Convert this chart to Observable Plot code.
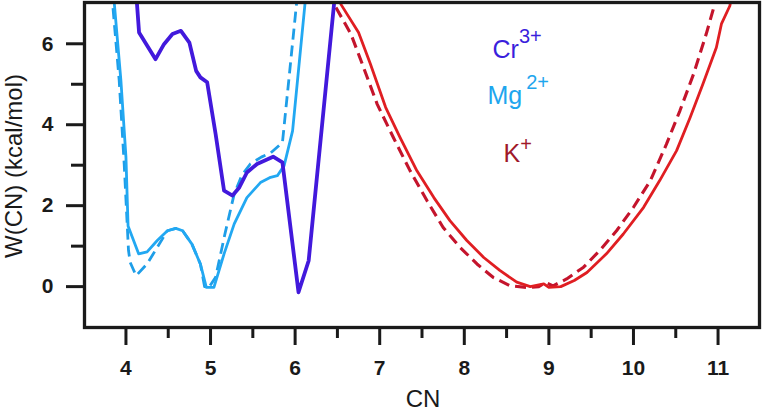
<!DOCTYPE html>
<html>
<head>
<meta charset="utf-8">
<script src="https://cdn.jsdelivr.net/npm/d3@7"></script>
<script src="https://cdn.jsdelivr.net/npm/@observablehq/plot@0.6"></script>
<style>
  html, body { margin: 0; padding: 0; background: #fff; }
  #chart svg { display: block; font-family: "Liberation Sans", Arial, Helvetica, sans-serif; }
  g[aria-label="x-axis tick label"] text, g[aria-label="y-axis tick label"] text { font-weight: bold; }
</style>
</head>
<body>
<div id="chart"></div>
<script>
// ---- Data ----
const crX = [4.125, 4.13, 4.155, 4.35, 4.45, 4.55, 4.65, 4.75, 4.83, 4.88, 4.96, 5.06, 5.16, 5.26, 5.34, 5.43, 5.55, 5.74, 5.85, 6.04, 6.16, 6.46, 6.48];
const crY = [7.4, 7.0, 6.28, 5.62, 5.99, 6.24, 6.32, 6.03, 5.33, 5.17, 5.05, 3.77, 2.37, 2.25, 2.45, 2.82, 3.03, 3.21, 3.07, -0.14, 0.64, 6.98, 7.4];

const mgSolidX = [3.85, 3.94, 4.0, 4.025, 4.15, 4.25, 4.37, 4.49, 4.59, 4.67, 4.78, 4.88, 4.95, 5.04, 5.16, 5.28, 5.43, 5.59, 5.71, 5.79, 5.87, 5.97, 6.12, 6.14];
const mgSolidY = [7.3, 5.1, 3.2, 1.5, 0.81, 0.86, 1.14, 1.38, 1.44, 1.38, 1.05, 0.56, -0.02, -0.02, 0.81, 1.55, 2.2, 2.57, 2.70, 2.74, 2.99, 3.85, 7.06, 7.4];

const mgDashX = [3.83, 3.92, 3.98, 4.03, 4.05, 4.12, 4.25, 4.37, 4.49, 4.59, 4.67, 4.78, 4.88, 4.93, 4.98, 5.06, 5.17, 5.28, 5.37, 5.47, 5.6, 5.71, 5.85, 5.93, 6.02, 6.04];
const mgDashY = [7.3, 5.1, 3.0, 0.9, 0.6, 0.27, 0.56, 0.97, 1.38, 1.44, 1.38, 1.05, 0.56, 0.0, -0.02, 0.23, 1.3, 2.29, 2.75, 3.03, 3.2, 3.3, 3.56, 5.2, 7.06, 7.4];

const kSolidX = [6.52, 6.54, 6.75, 6.89, 7.07, 7.24, 7.44, 7.64, 7.83, 8.03, 8.23, 8.42, 8.62, 8.78, 8.94, 9.0, 9.14, 9.30, 9.45, 9.68, 9.88, 10.12, 10.31, 10.51, 10.67, 10.82, 10.98, 11.04, 11.14, 11.17];
const kSolidY = [7.3, 6.98, 6.28, 5.5, 4.43, 3.69, 2.86, 2.2, 1.63, 1.14, 0.72, 0.40, 0.11, 0.0, 0.07, -0.02, 0.0, 0.15, 0.35, 0.81, 1.3, 1.96, 2.62, 3.36, 4.18, 5.0, 5.91, 6.49, 6.94, 7.3];

const kDashX = [6.44, 6.46, 6.66, 6.81, 6.97, 7.16, 7.36, 7.56, 7.75, 7.95, 8.15, 8.34, 8.54, 8.74, 8.88, 8.96, 9.05, 9.21, 9.41, 9.60, 9.80, 10.0, 10.2, 10.39, 10.55, 10.71, 10.86, 10.95, 10.98];
const kDashY = [7.3, 6.98, 6.24, 5.41, 4.51, 3.69, 2.86, 2.12, 1.46, 0.97, 0.56, 0.23, 0.02, -0.02, 0.0, 0.1, 0.02, 0.19, 0.48, 0.89, 1.38, 1.96, 2.62, 3.52, 4.35, 5.25, 6.24, 6.9, 7.3];

const xMajorTicks = [4, 5, 6, 7, 8, 9, 10, 11];
const xMinorTicks = [4.5, 5.5, 6.5, 7.5, 8.5, 9.5, 10.5];
const yMajorTicks = [0, 2, 4, 6];
const yMinorTicks = [1, 3, 5];

const legendNames = ["Cr", "Mg", "K"];
const legendSups = ["3+", "2+", "+"];
const legendColors = ["#3a1fdc", "#1ea6ee", "#a0182a"];

const xLabel = "CN";
const yLabel = "W(CN) (kcal/mol)";

// ---- Build tables ----
const rows = (xs, ys) => xs.map((x, i) => ({x, y: ys[i]}));
const cr = rows(crX, crY);
const mgSolid = rows(mgSolidX, mgSolidY);
const mgDash = rows(mgDashX, mgDashY);
const kSolid = rows(kSolidX, kSolidY);
const kDash = rows(kDashX, kDashY);

const ink = "#1a1a1a";
const legendLayout = [
  {dx: 408, dy: 55, supDx: 0, supDy: -15},
  {dx: 403, dy: 101, supDx: 4, supDy: -15},
  {dx: 419, dy: 159, supDx: 0, supDy: -11}
];

const chart = Plot.plot({
  width: 762,
  height: 411,
  marginLeft: 84,
  marginRight: 3,
  marginTop: 2,
  marginBottom: 84,
  style: {fontFamily: "Liberation Sans, Arial, Helvetica, sans-serif", background: "#fff", color: ink},
  x: {domain: [3.51, 11.49]},
  y: {domain: [-1.01, 7.02]},
  marks: [
    Plot.axisX({ticks: xMajorTicks, tickSize: 18, tickPadding: 15, strokeWidth: 3, fontSize: 21, fontWeight: "bold", color: ink, label: null}),
    Plot.axisX({ticks: xMinorTicks, tickSize: 11, tickFormat: () => "", strokeWidth: 3, color: ink, label: null}),
    Plot.axisY({ticks: yMajorTicks, tickSize: 18, tickPadding: 13, strokeWidth: 3, fontSize: 21, fontWeight: "bold", color: ink, label: null}),
    Plot.axisY({ticks: yMinorTicks, tickSize: 13, tickFormat: () => "", strokeWidth: 3, color: ink, label: null}),
    Plot.line(kDash, {x: "x", y: "y", stroke: "#c4142c", strokeWidth: 3.1, strokeDasharray: "11,6", strokeLinecap: "butt", clip: true}),
    Plot.line(kSolid, {x: "x", y: "y", stroke: "#e01e22", strokeWidth: 2.8, clip: true}),
    Plot.line(mgDash, {x: "x", y: "y", stroke: "#1e9ee8", strokeWidth: 2.8, strokeDasharray: "11,6", strokeLinecap: "butt", clip: true}),
    Plot.line(mgSolid, {x: "x", y: "y", stroke: "#22a8f2", strokeWidth: 2.8, clip: true}),
    Plot.line(cr, {x: "x", y: "y", stroke: "#4219dc", strokeWidth: 3.8, clip: true}),
    Plot.frame({stroke: ink, strokeWidth: 3.3}),
    Plot.text([xLabel], {text: d => d, frameAnchor: "bottom", dx: 1, dy: 79, lineAnchor: "bottom", textAnchor: "middle", fontSize: 24, fill: ink}),
    Plot.text([yLabel], {text: d => d, frameAnchor: "left", dx: -80, dy: 1, rotate: -90, lineAnchor: "top", textAnchor: "middle", fontSize: 24, fill: ink}),
    ...legendNames.map((name, i) => Plot.text([name], {
      text: d => d, frameAnchor: "top-left", dx: legendLayout[i].dx, dy: legendLayout[i].dy,
      textAnchor: "start", lineAnchor: "bottom", fontSize: 25, fill: legendColors[i]
    }))
  ]
});

document.getElementById("chart").appendChild(chart);

// superscripts on legend entries
chart.querySelectorAll("text").forEach(el => {
  const i = legendNames.indexOf(el.textContent);
  if (i < 0) return;
  d3.select(el).append("tspan")
    .attr("dx", legendLayout[i].supDx)
    .attr("dy", legendLayout[i].supDy)
    .attr("font-size", 20)
    .text(legendSups[i]);
});
</script>
</body>
</html>
